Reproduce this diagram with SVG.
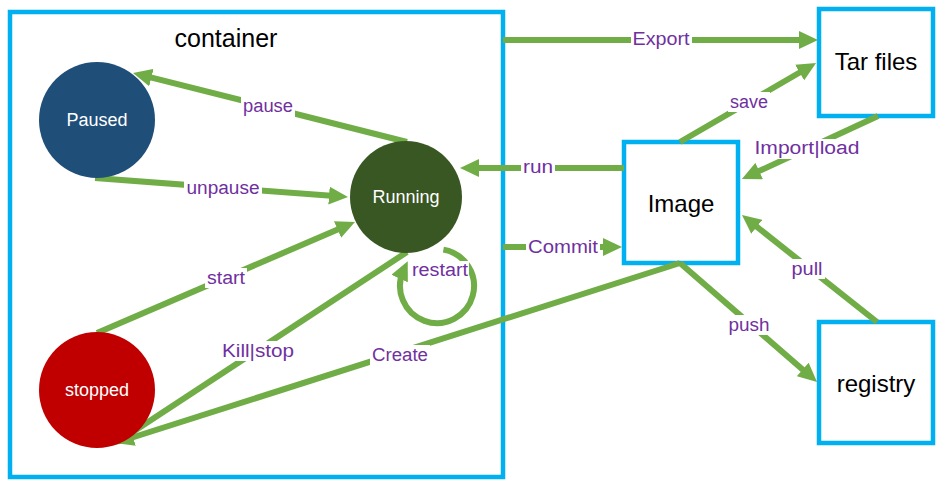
<svg xmlns="http://www.w3.org/2000/svg" width="948" height="489" viewBox="0 0 948 489">
<defs>
<style>
.box{fill:#fff;stroke:#00B0F0;stroke-width:4.5}
.conn{fill:none;stroke:#70AD47;stroke-width:6}
.lbl{font-family:"Liberation Sans",Arial,sans-serif;font-size:18px;fill:#7030A0;text-anchor:middle}
.bg{fill:#fff}
.ntxt{font-family:"Liberation Sans",Arial,sans-serif;font-size:18px;fill:#fff;text-anchor:middle}
.btxt{font-family:"Liberation Sans",Arial,sans-serif;font-size:24px;fill:#000;text-anchor:middle}
</style>
<marker id="ah" markerUnits="userSpaceOnUse" markerWidth="20" markerHeight="18" viewBox="0 0 20 18" refX="9" refY="9" orient="auto">
<path d="M0,0 L19,9 L0,18 z" fill="#70AD47"/>
</marker>
</defs>
<rect width="948" height="489" fill="#fff"/>

<g id="container">
<rect class="box" x="10" y="12" width="493" height="465" fill="none"/>
<text x="226" y="47" font-family="Liberation Sans,Arial,sans-serif" font-size="25" fill="#000" text-anchor="middle">container</text>
</g>

<g id="tarfiles">
<rect class="box" x="819" y="9" width="114" height="107"/>
<text class="btxt" x="876" y="70">Tar files</text>
</g>
<g id="image">
<rect class="box" x="624" y="142" width="114" height="121"/>
<text class="btxt" x="681" y="212">Image</text>
</g>
<g id="registry">
<rect class="box" x="819" y="322" width="114" height="121"/>
<text class="btxt" x="876" y="392">registry</text>
</g>

<g id="connectors">
<line class="conn" x1="407" y1="142" x2="142.7" y2="75.4" marker-end="url(#ah)"/>
<line class="conn" x1="95" y1="178" x2="338" y2="196.3" marker-end="url(#ah)"/>
<line class="conn" x1="97" y1="333" x2="345.8" y2="226" marker-end="url(#ah)"/>
<line class="conn" x1="407" y1="252" x2="121.4" y2="439.5" marker-end="url(#ah)"/>
<line class="conn" x1="680" y1="263" x2="124.5" y2="440" marker-end="url(#ah)"/>
<line class="conn" x1="624" y1="168" x2="470" y2="168" marker-end="url(#ah)"/>
<line class="conn" x1="503" y1="40" x2="808" y2="40" marker-end="url(#ah)"/>
<line class="conn" x1="503" y1="247" x2="612" y2="247" marker-end="url(#ah)"/>
<line class="conn" x1="680" y1="142" x2="807.4" y2="68" marker-end="url(#ah)"/>
<line class="conn" x1="878" y1="116" x2="751" y2="174.8" marker-end="url(#ah)"/>
<line class="conn" x1="877" y1="322" x2="749.8" y2="221.2" marker-end="url(#ah)"/>
<line class="conn" x1="680" y1="263" x2="809.5" y2="375.4" marker-end="url(#ah)"/>
<path class="conn" stroke-width="5" d="M443.4,249.6 A37,37 0 1 1 403.5,270.4" marker-end="url(#ah)"/>

<rect class="bg" x="631" y="30" width="61" height="20"/>
<text class="lbl" x="661" y="45" textLength="57" lengthAdjust="spacingAndGlyphs">Export</text>
<rect class="bg" x="241" y="97" width="54" height="20"/>
<text class="lbl" x="268" y="112" textLength="50" lengthAdjust="spacingAndGlyphs">pause</text>
<rect class="bg" x="184" y="179" width="78" height="20"/>
<text class="lbl" x="223" y="194" textLength="73" lengthAdjust="spacingAndGlyphs">unpause</text>
<rect class="bg" x="205" y="268" width="42" height="20"/>
<text class="lbl" x="226" y="284" textLength="38" lengthAdjust="spacingAndGlyphs">start</text>
<rect class="bg" x="220" y="341" width="76" height="20"/>
<text class="lbl" x="258" y="357" textLength="72" lengthAdjust="spacingAndGlyphs">Kill|stop</text>
<rect class="bg" x="370" y="345" width="60" height="20"/>
<text class="lbl" x="400" y="361" textLength="56" lengthAdjust="spacingAndGlyphs">Create</text>
<rect class="bg" x="411" y="261" width="58" height="19"/>
<text class="lbl" x="440" y="276" textLength="56" lengthAdjust="spacingAndGlyphs">restart</text>
<rect class="bg" x="521" y="158" width="34" height="20"/>
<text class="lbl" x="538" y="173" textLength="30" lengthAdjust="spacingAndGlyphs">run</text>
<rect class="bg" x="526" y="237" width="74" height="20"/>
<text class="lbl" x="563" y="253" textLength="70" lengthAdjust="spacingAndGlyphs">Commit</text>
<rect class="bg" x="728" y="92" width="42" height="20"/>
<text class="lbl" x="749" y="108" textLength="38" lengthAdjust="spacingAndGlyphs">save</text>
<rect class="bg" x="752" y="139" width="110" height="20"/>
<text class="lbl" x="807" y="154" textLength="105" lengthAdjust="spacingAndGlyphs">Import|load</text>
<rect class="bg" x="790" y="259" width="35" height="20"/>
<text class="lbl" x="807" y="275" textLength="31" lengthAdjust="spacingAndGlyphs">pull</text>
<rect class="bg" x="727" y="315" width="45" height="20"/>
<text class="lbl" x="749" y="331" textLength="41" lengthAdjust="spacingAndGlyphs">push</text>
</g>

<g id="paused">
<circle cx="97" cy="120" r="58" fill="#1F4E79"/>
<text class="ntxt" x="97" y="126">Paused</text>
</g>
<g id="running">
<circle cx="406" cy="197" r="56" fill="#385723"/>
<text class="ntxt" x="406" y="203">Running</text>
</g>
<g id="stopped">
<circle cx="97" cy="390" r="58" fill="#C00000"/>
<text class="ntxt" x="97" y="396">stopped</text>
</g>
</svg>
